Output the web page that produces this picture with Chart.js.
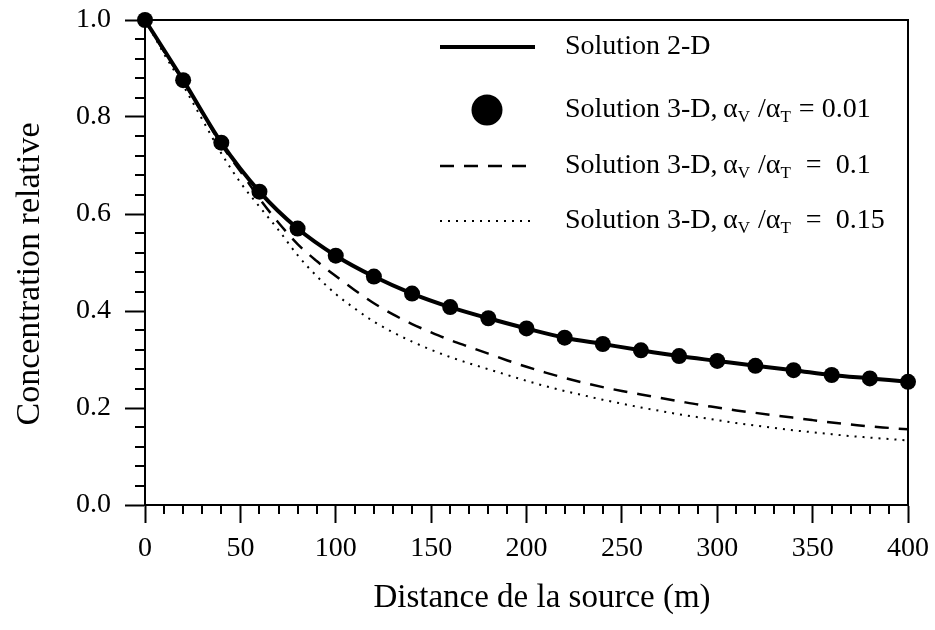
<!DOCTYPE html>
<html>
<head>
<meta charset="utf-8">
<script src="https://cdn.jsdelivr.net/npm/chart.js@4/dist/chart.umd.min.js"></script>
<style>
  html, body { margin: 0; padding: 0; background: #fff; }
  #wrap { width: 935px; height: 630px; }
</style>
</head>
<body>
<div id="wrap"><canvas id="c" width="935" height="630"></canvas></div>
<script>
// Distances (m) along the plume axis
const distance20 = [0, 20, 40, 60, 80, 100, 120, 140, 160, 180, 200, 220, 240, 260, 280, 300, 320, 340, 360, 380, 400];
const distance10 = [0, 10, 20, 30, 40, 50, 60, 70, 80, 90, 100, 110, 120, 130, 140, 150, 160, 170, 180, 190, 200,
                    210, 220, 230, 240, 250, 260, 270, 280, 290, 300, 310, 320, 330, 340, 350, 360, 370, 380, 390, 400];

// Relative concentration, 2-D solution
const solution2D = [1.000, 0.876, 0.747, 0.646, 0.570, 0.514, 0.471, 0.436, 0.408, 0.385, 0.364,
                    0.345, 0.332, 0.319, 0.307, 0.297, 0.287, 0.278, 0.268, 0.261, 0.254];
// 3-D solution, aV/aT = 0.01 (markers)
const solution3D_001 = [1.000, 0.876, 0.747, 0.646, 0.570, 0.514, 0.471, 0.436, 0.408, 0.385, 0.364,
                        0.345, 0.332, 0.319, 0.307, 0.297, 0.287, 0.278, 0.268, 0.261, 0.254];
// 3-D solution, aV/aT = 0.1 (dashed)
const solution3D_01 = [1.000, 0.935, 0.874, 0.808, 0.743, 0.688, 0.632, 0.582, 0.538, 0.503, 0.472,
                       0.443, 0.416, 0.393, 0.373, 0.356, 0.340, 0.326, 0.312, 0.298, 0.285,
                       0.273, 0.262, 0.252, 0.243, 0.235, 0.228, 0.221, 0.214, 0.207, 0.201,
                       0.195, 0.190, 0.185, 0.180, 0.175, 0.170, 0.166, 0.162, 0.159, 0.156];
// 3-D solution, aV/aT = 0.15 (dotted)
const solution3D_015 = [1.000, 0.930, 0.865, 0.795, 0.725, 0.665, 0.615, 0.567, 0.515, 0.472, 0.435,
                        0.405, 0.378, 0.356, 0.337, 0.320, 0.305, 0.292, 0.280, 0.268, 0.256,
                        0.245, 0.235, 0.226, 0.217, 0.209, 0.201, 0.194, 0.187, 0.181, 0.175,
                        0.169, 0.164, 0.159, 0.154, 0.150, 0.146, 0.142, 0.139, 0.136, 0.133];

// Axis ticks
const xMajorTicks = [0, 50, 100, 150, 200, 250, 300, 350, 400];
const xMinorStep = 10;
const yMajorTicks = [0, 0.2, 0.4, 0.6, 0.8, 1.0];
const yMinorStep = 0.04;

// Legend content
const legendRatios = ['0.01', '0.1', '0.15'];
const xTitle = 'Distance de la source (m)';
const yTitle = 'Concentration relative';

const SERIF = '"Liberation Serif", "DejaVu Serif", serif';
const pts = (xs, ys) => xs.map((x, i) => ({ x: x, y: ys[i] }));

// Minor ticks, top/right frame, axis titles and legend
const decorPlugin = {
  id: 'decor',
  afterDraw(chart) {
    const ctx = chart.ctx;
    const a = chart.chartArea;
    const xs = chart.scales.x, ys = chart.scales.y;
    ctx.save();
    ctx.strokeStyle = '#000';
    ctx.lineWidth = 2;
    // frame: top and right edges
    ctx.beginPath();
    ctx.moveTo(a.left, a.top);
    ctx.lineTo(a.right, a.top);
    ctx.lineTo(a.right, a.bottom);
    ctx.stroke();
    // minor ticks on x
    ctx.beginPath();
    for (let v = xMinorStep; v < 400; v += xMinorStep) {
      if (v % 50 === 0) continue;
      const px = Math.round(xs.getPixelForValue(v));
      ctx.moveTo(px, a.bottom);
      ctx.lineTo(px, a.bottom + 9);
    }
    // minor ticks on y
    for (let k = 1; k < 25; k++) {
      if (k % 5 === 0) continue;
      const py = Math.round(ys.getPixelForValue(k * yMinorStep));
      ctx.moveTo(a.left, py);
      ctx.lineTo(a.left - 10, py);
    }
    ctx.stroke();

    // axis titles
    ctx.fillStyle = '#000';
    ctx.textAlign = 'center';
    ctx.textBaseline = 'middle';
    ctx.font = '33px ' + SERIF;
    ctx.fillText(xTitle, 542, 598);
    ctx.save();
    ctx.font = '34px ' + SERIF;
    ctx.translate(30, 274);
    ctx.rotate(-Math.PI / 2);
    ctx.fillText(yTitle, 0, 0);
    ctx.restore();

    // legend
    const font = '28px ' + SERIF;
    const subFont = '17px ' + SERIF;
    const tx = 565;
    const rows = [47, 110, 166, 221];
    ctx.textAlign = 'left';
    ctx.textBaseline = 'middle';
    // sample: solid line
    ctx.lineWidth = 4;
    ctx.setLineDash([]);
    ctx.beginPath();
    ctx.moveTo(440, rows[0]); ctx.lineTo(535, rows[0]);
    ctx.stroke();
    // sample: marker
    ctx.beginPath();
    ctx.arc(487, rows[1], 15.5, 0, Math.PI * 2);
    ctx.fill();
    // sample: dashed
    ctx.lineWidth = 2.5;
    ctx.setLineDash([14, 10]);
    ctx.beginPath();
    ctx.moveTo(440, rows[2]); ctx.lineTo(532, rows[2]);
    ctx.stroke();
    // sample: dotted
    ctx.lineWidth = 2;
    ctx.setLineDash([2, 6]);
    ctx.beginPath();
    ctx.moveTo(440, rows[3]); ctx.lineTo(535, rows[3]);
    ctx.stroke();
    ctx.setLineDash([]);

    ctx.font = font;
    ctx.fillText('Solution 2-D', tx, rows[0]);
    legendRatios.forEach((r, i) => {
      const y = rows[i + 1];
      const eq = i === 0 ? ' = ' : '\u2002=\u2002';
      const parts = [
        { t: 'Solution 3-D,\u2009\u03b1' },
        { t: 'V', sub: true },
        { t: ' /\u03b1' },
        { t: 'T', sub: true },
        { t: eq + r }
      ];
      let x = tx;
      parts.forEach(p => {
        ctx.font = p.sub ? subFont : font;
        ctx.fillText(p.t, x, y + (p.sub ? 8 : 0));
        x += ctx.measureText(p.t).width + (p.sub ? 1 : 0);
      });
    });
    ctx.restore();
  }
};

const zeroPad = s => { s.paddingTop = 0; s.paddingBottom = 0; s.paddingLeft = 0; s.paddingRight = 0; };

new Chart(document.getElementById('c'), {
  type: 'scatter',
  data: {
    datasets: [
      {
        label: 'Solution 3-D, aV/aT = 0.15',
        data: pts(distance10, solution3D_015),
        showLine: true,
        borderColor: '#000',
        borderWidth: 2,
        borderDash: [2, 6],
        pointRadius: 0,
        cubicInterpolationMode: 'monotone',
        clip: false,
        order: 4
      },
      {
        label: 'Solution 3-D, aV/aT = 0.1',
        data: pts(distance10, solution3D_01),
        showLine: true,
        borderColor: '#000',
        borderWidth: 2.5,
        borderDash: [14, 10],
        pointRadius: 0,
        cubicInterpolationMode: 'monotone',
        clip: false,
        order: 3
      },
      {
        label: 'Solution 2-D',
        data: pts(distance20, solution2D),
        showLine: true,
        borderColor: '#000',
        borderWidth: 4,
        pointRadius: 0,
        cubicInterpolationMode: 'monotone',
        clip: false,
        order: 2
      },
      {
        label: 'Solution 3-D, aV/aT = 0.01',
        data: pts(distance20, solution3D_001),
        showLine: false,
        pointRadius: 8,
        pointBackgroundColor: '#000',
        pointBorderWidth: 0,
        clip: false,
        order: 1
      }
    ]
  },
  options: {
    responsive: false,
    animation: false,
    devicePixelRatio: 1,
    layout: { padding: { left: 0, top: 20, right: 27, bottom: 0 } },
    plugins: { legend: { display: false }, tooltip: { enabled: false }, title: { display: false } },
    scales: {
      x: {
        type: 'linear',
        min: 0,
        max: 400,
        afterBuildTicks: s => { s.ticks = xMajorTicks.map(v => ({ value: v })); },
        afterFit: s => { s.height = 125; zeroPad(s); },
        ticks: { color: '#000', font: { family: SERIF, size: 28 }, padding: 9, maxRotation: 0 },
        grid: { drawOnChartArea: false, drawTicks: true, tickLength: 18, tickWidth: 2, tickColor: '#000' },
        border: { display: true, color: '#000', width: 2 }
      },
      y: {
        type: 'linear',
        min: 0,
        max: 1,
        afterBuildTicks: s => { s.ticks = yMajorTicks.map(v => ({ value: v })); },
        afterFit: s => { s.width = 145; zeroPad(s); },
        ticks: { color: '#000', font: { family: SERIF, size: 28 }, padding: 14, callback: v => v.toFixed(1) },
        grid: { drawOnChartArea: false, drawTicks: true, tickLength: 20, tickWidth: 2, tickColor: '#000' },
        border: { display: true, color: '#000', width: 2 }
      }
    }
  },
  plugins: [decorPlugin]
});
</script>
</body>
</html>
